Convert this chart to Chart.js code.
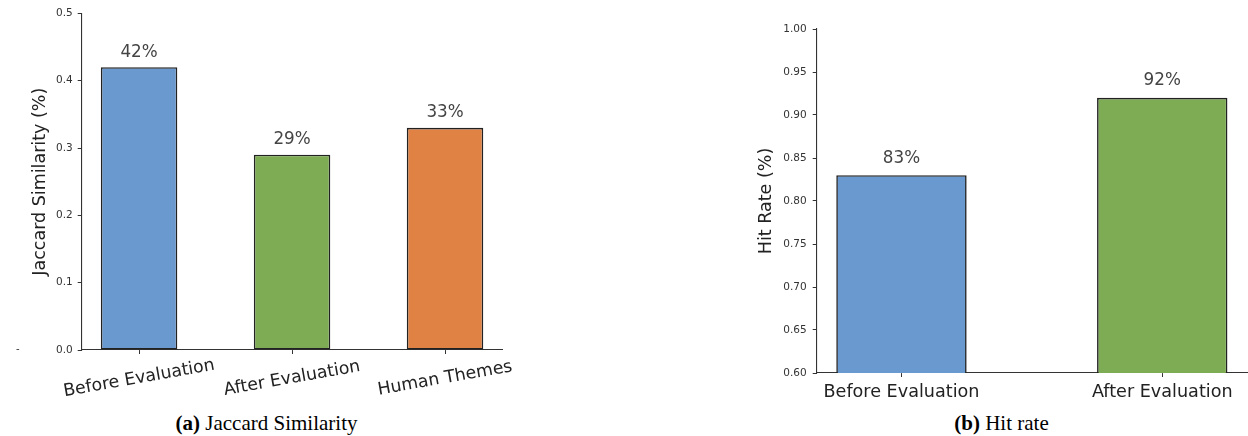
<!DOCTYPE html>
<html><head><meta charset="utf-8">
<script src="https://cdn.jsdelivr.net/npm/chart.js@4.4.1/dist/chart.umd.min.js"></script>
<style>
html,body{margin:0;padding:0;background:#fff;}
body{width:1248px;height:436px;position:relative;overflow:hidden;}
#wa{position:absolute;left:0;top:0;width:560px;height:400px;}
#wb{position:absolute;left:700px;top:0;width:548px;height:400px;}
.cap{position:absolute;top:413px;font-family:'Liberation Serif','Times New Roman',serif;font-size:21px;line-height:21px;color:#000;text-align:center;white-space:nowrap;}
.dash{position:absolute;left:16px;top:343px;font:10px 'DejaVu Sans',sans-serif;color:#333;}
</style></head><body>
<div id="wa"><canvas id="ca"></canvas></div>
<div id="wb"><canvas id="cb"></canvas></div>
<div class="cap" style="left:116.5px;width:300px;"><b>(a)</b> Jaccard Similarity</div>
<div class="cap" style="left:851.5px;width:300px;"><b>(b)</b> Hit rate</div>
<div class="dash">-</div>
<script>
// ---- data ----
const jaccardCategories = ['Before Evaluation', 'After Evaluation', 'Human Themes'];
const jaccardValues = [0.42, 0.29, 0.33];
const jaccardValueLabels = ['42%', '29%', '33%'];
const jaccardTicks = [0.0, 0.1, 0.2, 0.3, 0.4, 0.5];

const hitCategories = ['Before Evaluation', 'After Evaluation'];
const hitValues = [0.83, 0.92];
const hitValueLabels = ['83%', '92%'];
const hitTicks = [0.60, 0.65, 0.70, 0.75, 0.80, 0.85, 0.90, 0.95, 1.00];

const jaccardColors = ['#6A99CF', '#7EAC55', '#E08244'];
const hitColors = ['#6A99CF', '#7EAC55'];

const FONT = "'DejaVu Sans', sans-serif";

function makeLabelPlugin(categories, values, valueLabels, rotation, catOffset, catSize) {
  return {
    id: 'barLabels',
    afterDraw(chart) {
      const ctx = chart.ctx, xs = chart.scales.x, ys = chart.scales.y, area = chart.chartArea;
      ctx.save();
      ctx.font = '16.8px ' + FONT;
      ctx.fillStyle = '#444';
      ctx.textAlign = 'center';
      ctx.textBaseline = 'alphabetic';
      values.forEach((v, i) => {
        ctx.fillText(valueLabels[i], xs.getPixelForValue(i), ys.getPixelForValue(v + 0.01) - 3.9);
      });
      ctx.font = catSize + 'px ' + FONT;
      ctx.fillStyle = '#222';
      categories.forEach((c, i) => {
        const x = xs.getPixelForValue(i);
        if (rotation) {
          ctx.save();
          ctx.translate(x, area.bottom + catOffset);
          ctx.rotate(-rotation * Math.PI / 180);
          ctx.textBaseline = 'middle';
          ctx.fillText(c, 0, 0);
          ctx.restore();
        } else {
          ctx.textBaseline = 'alphabetic';
          ctx.fillText(c, x, area.bottom + catOffset);
        }
      });
      ctx.restore();
    }
  };
}

function makeChart(id, cfg) {
  return new Chart(document.getElementById(id), {
    type: 'bar',
    data: {
      datasets: [{
        data: cfg.categories.map((c, i) => ({ x: i, y: cfg.values[i] })),
        backgroundColor: cfg.colors,
        borderColor: '#222',
        borderWidth: 1.6,
        borderSkipped: false,
        barPercentage: 0.5,
        categoryPercentage: 1.0
      }]
    },
    options: {
      responsive: true,
      maintainAspectRatio: false,
      animation: false,
      layout: { padding: cfg.padding },
      plugins: { legend: { display: false }, tooltip: { enabled: false } },
      scales: {
        x: {
          type: 'linear',
          offset: false,
          min: cfg.xMin, max: cfg.xMax,
          afterBuildTicks: s => { s.ticks = cfg.categories.map((c, i) => ({ value: i })); },
          afterFit: s => { s.height = cfg.xHeight; },
          ticks: { display: false },
          grid: { offset: false, drawOnChartArea: false, drawTicks: true, tickLength: 4, color: '#333', lineWidth: 1 },
          border: { display: true, color: '#333', width: 1.1 }
        },
        y: {
          min: cfg.yTicks[0], max: cfg.yTicks[cfg.yTicks.length - 1],
          afterBuildTicks: s => { s.ticks = cfg.yTicks.map(v => ({ value: v })); },
          afterFit: s => { s.width = cfg.yWidth; },
          ticks: {
            callback: v => Number(v).toFixed(cfg.decimals),
            font: { family: FONT, size: 10.5 },
            color: '#333',
            padding: cfg.tickPad
          },
          grid: { drawOnChartArea: false, drawTicks: true, tickLength: 4, color: '#333', lineWidth: 1 },
          border: { display: true, color: '#333', width: 1.1 },
          title: {
            display: true,
            text: cfg.yTitle,
            font: { family: FONT, size: 17.5, lineHeight: 1 },
            color: '#222',
            padding: { top: cfg.titlePad, bottom: 0 }
          }
        }
      }
    },
    plugins: [makeLabelPlugin(cfg.categories, cfg.values, cfg.valueLabels, cfg.rotation, cfg.catOffset, cfg.catSize)]
  });
}

makeChart('ca', {
  categories: jaccardCategories, values: jaccardValues, valueLabels: jaccardValueLabels,
  colors: jaccardColors, yTicks: jaccardTicks, decimals: 1, yTitle: 'Jaccard Similarity (%)',
  xMin: -0.375, xMax: 2.375, padding: { left: 0, top: 13.4, right: 57.6, bottom: 0 },
  xHeight: 50, yWidth: 81.7, tickPad: 5, titlePad: 31.25, rotation: 10, catOffset: 28.5, catSize: 17.3
});

makeChart('cb', {
  categories: hitCategories, values: hitValues, valueLabels: hitValueLabels,
  colors: hitColors, yTicks: hitTicks, decimals: 2, yTitle: 'Hit Rate (%)',
  xMin: -0.325, xMax: 1.325, padding: { left: 0, top: 29, right: 1, bottom: 0 },
  xHeight: 27, yWidth: 116.7, tickPad: 6, titlePad: 57.25, rotation: 0, catOffset: 24, catSize: 17.6
});
</script>
</body></html>
